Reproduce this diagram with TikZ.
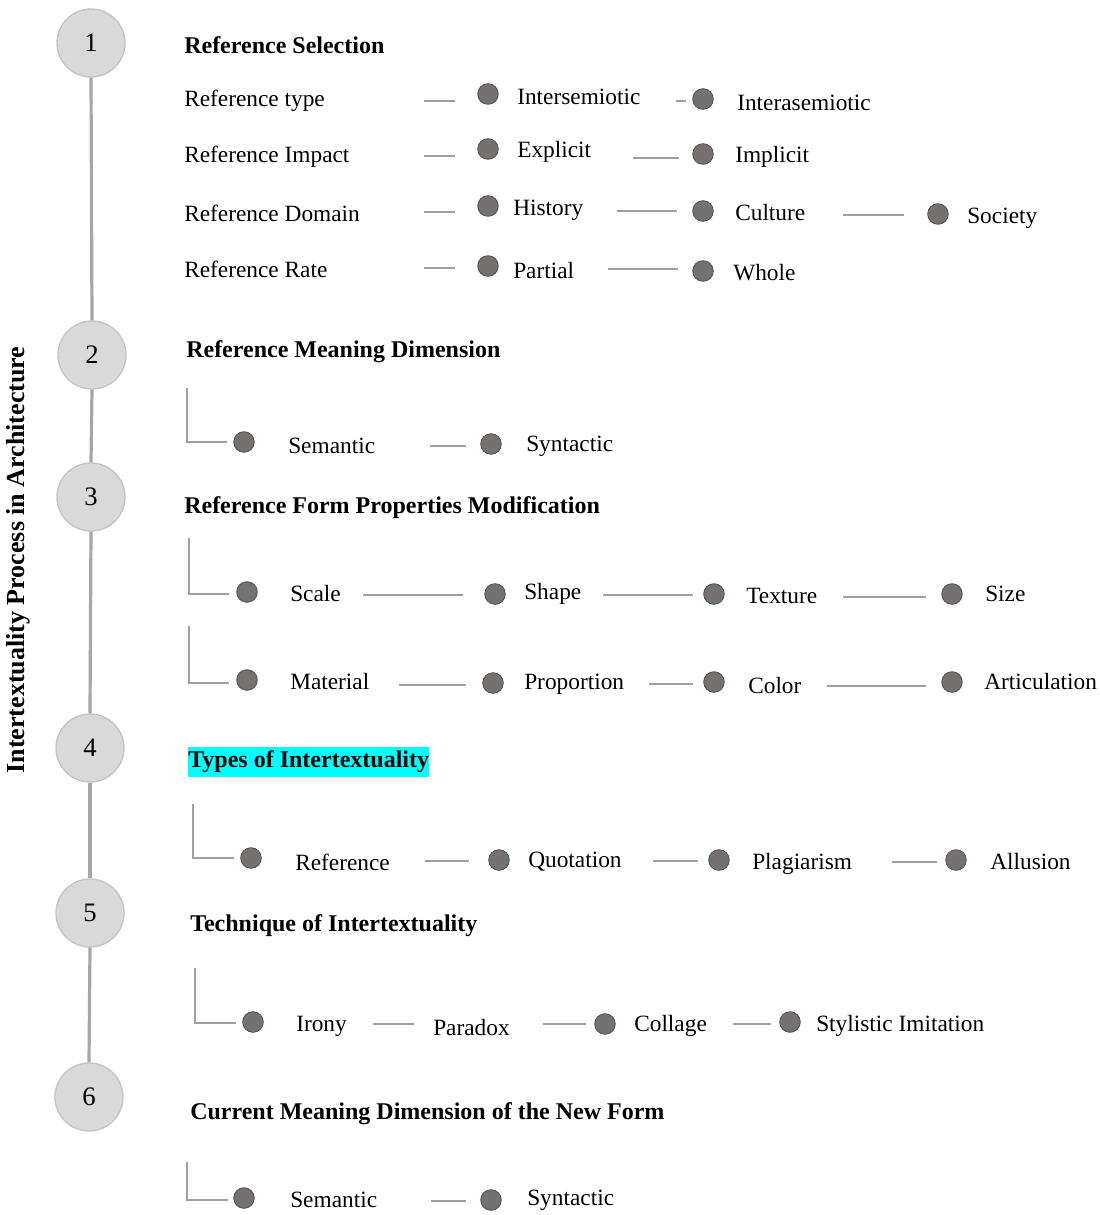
\documentclass[tikz,border=0pt]{standalone}
\usepackage{fontspec}
\setmainfont{Liberation Serif}
\definecolor{stepfill}{HTML}{D9D9D9}
\definecolor{stepdraw}{HTML}{C4C4C4}
\definecolor{spinegray}{HTML}{A6A6A6}
\definecolor{linegray}{HTML}{A0A0A0}
\definecolor{dotfill}{HTML}{767171}
\definecolor{dotdraw}{HTML}{4F4F4F}
\definecolor{hlcyan}{HTML}{00FFFF}
\newcommand\conline[4]{\coordinate (#1s) at (#2,#4); \coordinate (#1e) at (#3,#4); \draw[conn] (#1s) -- (#1e);}
\newcommand\elbowline[5]{\coordinate (#1t) at (#2,#3); \coordinate (#1c) at (#2,#4); \coordinate (#1e) at (#5,#4); \draw[conn] (#1t) -- (#1c) -- (#1e);}
\begin{document}
\begin{tikzpicture}[x=0.75pt,y=-0.75pt,
  stepc/.style={circle, fill=stepfill, draw=stepdraw, line width=1pt, minimum size=51pt, inner sep=0, font=\fontsize{20}{24}\selectfont},
  dotn/.style={circle, fill=dotfill, draw=dotdraw, line width=0.6pt, minimum size=15.5pt, inner sep=0},
  lab/.style={anchor=west, inner sep=0, font=\fontsize{17.5}{20}\selectfont},
  ttl/.style={anchor=west, inner sep=0, font=\bfseries\fontsize{18}{21}\selectfont},
  conn/.style={draw=linegray, line width=0.9pt},
  spine/.style={draw=spinegray, line width=2.4pt}]
\useasboundingbox (0,0) rectangle (1100,1215);

% steps
\node[stepc] (s1) at (91,43) {1};
\node[stepc] (s2) at (92,355) {2};
\node[stepc] (s3) at (91,497) {3};
\node[stepc] (s4) at (90,748) {4};
\node[stepc] (s5) at (90,913) {5};
\node[stepc] (s6) at (89,1097) {6};
\draw[spine] (s1.south) -- (s2.north);
\draw[spine] (s2.south) -- (s3.north);
\draw[spine] (s3.south) -- (s4.north);
\draw[spine] (s4.south) -- (s5.north);
\draw[spine] (s5.south) -- (s6.north);

\node[rotate=90, inner sep=0, font=\bfseries\fontsize{19.5}{22}\selectfont] (vt) at (18,560) {Intertextuality Process in Architecture};

% section 1
\node[ttl] (t1) at (184,45) {Reference Selection};
\node[lab] (rt) at (184,101) {Reference type};
\node[lab] (ri) at (184,157) {Reference Impact};
\node[lab] (rd) at (184,213) {Reference Domain};
\node[lab] (rr) at (184,269) {Reference Rate};

\node[dotn] (d11) at (488,94) {};
\node[dotn] (d12) at (703,99) {};
\node[dotn] (d21) at (488,149) {};
\node[dotn] (d22) at (703,154) {};
\node[dotn] (d31) at (488,206) {};
\node[dotn] (d32) at (703,211) {};
\node[dotn] (d33) at (938,214) {};
\node[dotn] (d41) at (488,266) {};
\node[dotn] (d42) at (703,271) {};

\node[lab] (l11) at (517,97) {Intersemiotic};
\node[lab] (l12) at (737,103) {Interasemiotic};
\node[lab] (l21) at (517,152) {Explicit};
\node[lab] (l22) at (735,157) {Implicit};
\node[lab] (l31) at (513,210) {History};
\node[lab] (l32) at (735,213) {Culture};
\node[lab] (l33) at (967,218) {Society};
\node[lab] (l41) at (513,271) {Partial};
\node[lab] (l42) at (733,273) {Whole};

\conline{a1}{424}{455}{101}
\conline{a2}{676}{686}{101}
\conline{b1}{424}{455}{156}
\conline{b2}{633}{679}{158}
\conline{c1}{424}{455}{212}
\conline{c2}{617}{677}{211}
\conline{c3}{843}{904}{215}
\conline{e1}{424}{455}{268}
\conline{e2}{608}{678}{269}

% section 2
\node[ttl] (t2) at (186,352) {Reference Meaning Dimension};
\elbowline{k2}{187}{388}{442}{227}
\node[dotn] (m1) at (244,442) {};
\node[lab] (ml1) at (288,446) {Semantic};
\conline{m2}{430}{466}{446}
\node[dotn] (m3) at (491,444) {};
\node[lab] (ml2) at (526,446) {Syntactic};

% section 3
\node[ttl] (t3) at (184,508) {Reference Form Properties Modification};
\elbowline{k3a}{189}{538}{594}{229}
\node[dotn] (p1) at (247,592) {};
\node[lab] (pl1) at (290,594) {Scale};
\conline{p1x}{363}{463}{595}
\node[dotn] (p2) at (495,594) {};
\node[lab] (pl2) at (524,594) {Shape};
\conline{p2x}{603}{693}{595}
\node[dotn] (p3) at (714,594) {};
\node[lab] (pl3) at (746,596) {Texture};
\conline{p3x}{843}{926}{597}
\node[dotn] (p4) at (952,594) {};
\node[lab] (pl4) at (985,594) {Size};

\elbowline{k3b}{189}{626}{683}{229}
\node[dotn] (q1) at (247,680) {};
\node[lab] (ql1) at (290,682) {Material};
\conline{q1x}{399}{466}{685}
\node[dotn] (q2) at (493,683) {};
\node[lab] (ql2) at (524,684) {Proportion};
\conline{q2x}{649}{693}{684}
\node[dotn] (q3) at (714,682) {};
\node[lab] (ql3) at (748,686) {Color};
\conline{q3x}{827}{926}{686}
\node[dotn] (q4) at (952,682) {};
\node[lab] (ql4) at (984,682) {Articulation};

% section 4
\node[ttl, fill=hlcyan, inner xsep=0pt, inner ysep=2pt, minimum height=22pt] (t4) at (188,762) {Types of Intertextuality};
\elbowline{k4}{193}{804}{858}{234}
\node[dotn] (r1) at (251,858) {};
\node[lab] (rl1) at (295,862) {Reference};
\conline{r1x}{425}{469}{861}
\node[dotn] (r2) at (499,860) {};
\node[lab] (rl2) at (528,862) {Quotation};
\conline{r2x}{653}{698}{861}
\node[dotn] (r3) at (719,860) {};
\node[lab] (rl3) at (752,864) {Plagiarism};
\conline{r3x}{892}{937}{862}
\node[dotn] (r4) at (956,860) {};
\node[lab] (rl4) at (990,862) {Allusion};

% section 5
\node[ttl] (t5) at (190,926) {Technique of Intertextuality};
\elbowline{k5}{195}{968}{1023}{236}
\node[dotn] (u1) at (253,1022) {};
\node[lab] (ul1) at (296,1026) {Irony};
\conline{u1x}{373}{414}{1024}
\node[lab] (ul2) at (433,1028) {Paradox};
\conline{u2x}{543}{586}{1024}
\node[dotn] (u3) at (605,1024) {};
\node[lab] (ul3) at (634,1026) {Collage};
\conline{u3x}{733}{771}{1024}
\node[dotn] (u4) at (790,1022) {};
\node[lab] (ul4) at (816,1026) {Stylistic Imitation};

% section 6
\node[ttl] (t6) at (190,1114) {Current Meaning Dimension of the New Form};
\elbowline{k6}{187}{1162}{1200}{228}
\node[dotn] (v1) at (244,1198) {};
\node[lab] (vl1) at (290,1200) {Semantic};
\conline{v1x}{431}{466}{1201}
\node[dotn] (v2) at (491,1200) {};
\node[lab] (vl2) at (527,1200) {Syntactic};
\end{tikzpicture}
\end{document}
